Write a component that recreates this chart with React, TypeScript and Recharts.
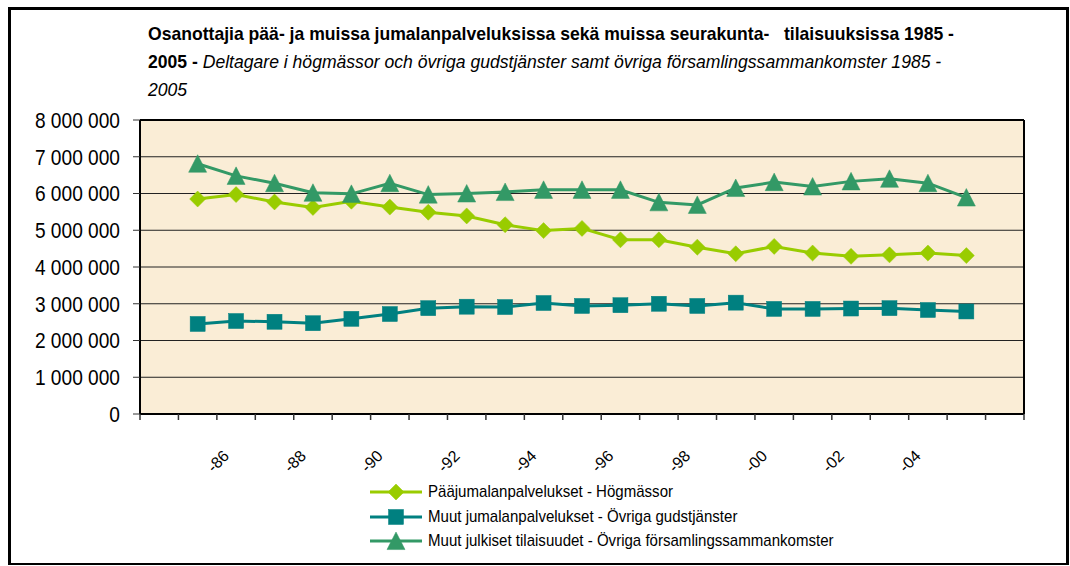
import React from 'react';
import { LineChart, Line, XAxis, YAxis, CartesianGrid, Legend } from 'recharts';

// Category labels (first and last category are empty, as in the original chart)
const categories = ["", "-85", "-86", "-87", "-88", "-89", "-90", "-91", "-92", "-93", "-94", "-95", "-96", "-97", "-98", "-99", "-00", "-01", "-02", "-03", "-04", "-05", ""];
const firstDataIndex = 1;

// 1985 - 2005
const hogmassor = [5850000, 5970000, 5770000, 5620000, 5790000, 5630000, 5490000, 5390000, 5150000, 4990000, 5050000, 4740000, 4740000, 4540000, 4360000, 4560000, 4380000, 4290000, 4330000, 4380000, 4310000];
const ovrigaGudstjanster = [2450000, 2530000, 2510000, 2470000, 2590000, 2720000, 2880000, 2920000, 2910000, 3020000, 2940000, 2960000, 3000000, 2940000, 3030000, 2860000, 2860000, 2870000, 2880000, 2830000, 2790000];
const ovrigaSammankomster = [6810000, 6480000, 6280000, 6020000, 5990000, 6280000, 5970000, 6000000, 6040000, 6100000, 6100000, 6100000, 5760000, 5690000, 6150000, 6310000, 6190000, 6330000, 6400000, 6280000, 5890000];

const yMax = 8000000;
const yTicks = [0, 1000000, 2000000, 3000000, 4000000, 5000000, 6000000, 7000000, 8000000];

const seriesOrder = ['a', 'b', 'c'];
const seriesNames = {
  a: "Pääjumalanpalvelukset - Högmässor",
  b: "Muut jumalanpalvelukset - Övriga gudstjänster",
  c: "Muut julkiset tilaisuudet - Övriga församlingssammankomster",
};
const titleLine1 = "Osanottajia pää- ja muissa jumalanpalveluksissa sekä muissa seurakunta-   tilaisuuksissa 1985 -";
const titleLine2Bold = "2005 - ";
const titleLine2Italic = "Deltagare i högmässor och övriga gudstjänster samt övriga församlingssammankomster 1985 -";
const titleLine3Italic = "2005";

const colA = "#99CC00";
const colB = "#008080";
const colC = "#339966";

const valueAt = (arr: number[], i: number) => {
  const k = i - firstDataIndex;
  return k >= 0 && k < arr.length ? arr[k] : null;
};

const data = categories.map((cat, i) => ({
  cat,
  a: valueAt(hogmassor, i),
  b: valueAt(ovrigaGudstjanster, i),
  c: valueAt(ovrigaSammankomster, i),
}));

// layout
const CHART_W = 1055;
const CHART_H = 553;
const Y_AXIS_W = 129;
const MARGIN = { top: 110, right: 42, bottom: 148, left: 0 };
const PLOT_W = CHART_W - Y_AXIS_W - MARGIN.right;
const HALF_BAND = PLOT_W / categories.length / 2;

const FONT = '"Liberation Sans", Arial, sans-serif';

const fmt = (v: number) => String(v).replace(/\B(?=(\d{3})+(?!\d))/g, ' ');

const Diamond = ({ cx, cy, color, r = 8 }: any) => (
  <path d={`M${cx},${cy - r}L${cx + r},${cy}L${cx},${cy + r}L${cx - r},${cy}Z`} fill={color} stroke={color} strokeWidth={0.5} />
);
const Square = ({ cx, cy, color, r = 7.5 }: any) => (
  <rect x={cx - r} y={cy - r} width={2 * r} height={2 * r} fill={color} stroke={color} strokeWidth={0.5} />
);
const Triangle = ({ cx, cy, color, r = 9 }: any) => (
  <path d={`M${cx},${cy - r}L${cx + r},${cy + r * 0.95}L${cx - r},${cy + r * 0.95}Z`} fill={color} stroke={color} strokeWidth={0.5} />
);

const markerFor = (key: string, cx: number, cy: number, color: string) => {
  if (key === 'a') return <Diamond cx={cx} cy={cy} color={color} />;
  if (key === 'b') return <Square cx={cx} cy={cy} color={color} />;
  return <Triangle cx={cx} cy={cy} color={color} />;
};

const makeDot = (key: string, color: string) => (props: any) => {
  const { cx, cy, index } = props;
  if (cx == null || cy == null || props.value == null) return <g key={`${key}-${index}`} />;
  return <g key={`${key}-${index}`}>{markerFor(key, cx, cy, color)}</g>;
};

// Category tick: boundary tick marks (between categories) + rotated label on every second category
const XTick = (props: any) => {
  const { x, y, payload, index } = props;
  const isLast = index === categories.length - 1;
  const showLabel = index % 2 === 0 && payload && payload.value;
  return (
    <g>
      <line x1={x - HALF_BAND} x2={x - HALF_BAND} y1={y} y2={y + 6} stroke="#333" strokeWidth={1.5} />
      {isLast && <line x1={x + HALF_BAND} x2={x + HALF_BAND} y1={y} y2={y + 6} stroke="#333" strokeWidth={1.5} />}
      {showLabel && (
        <g transform={`translate(${x - 6},${y + 43}) rotate(-45)`}>
          <text x={0} y={0} textAnchor="end" fontFamily={FONT} fontSize={16} fill="#000">{payload.value}</text>
        </g>
      )}
    </g>
  );
};

const YTick = (props: any) => {
  const { x, y, payload } = props;
  return (
    <text x={0} y={0} dy="0.355em" transform={`translate(${x},${y}) scale(0.87,1)`} textAnchor="end" fontFamily={FONT} fontSize={22} fill="#000">
      {fmt(payload.value)}
    </text>
  );
};

const LegendContent = (props: any) => {
  const { payload } = props;
  const items = [...(payload || [])].sort((p: any, q: any) => seriesOrder.indexOf(p.dataKey) - seriesOrder.indexOf(q.dataKey));
  return (
    <div style={{ fontFamily: FONT, fontSize: 17, color: '#000' }}>
      {items.map((entry: any) => (
        <div key={entry.dataKey} style={{ display: 'flex', alignItems: 'center', height: 24.5, whiteSpace: 'nowrap' }}>
          <svg width={52} height={20} style={{ display: 'block' }}>
            <line x1={0} y1={10} x2={52} y2={10} stroke={entry.color} strokeWidth={3} />
            {markerFor(entry.dataKey, 26, 10, entry.color)}
          </svg>
          <span style={{ marginLeft: 6, display: 'inline-block', transform: 'scaleX(0.885)', transformOrigin: 'left center' }}>{entry.value}</span>
        </div>
      ))}
    </div>
  );
};

const topEdge = ({ offset }: any) => [offset.top];
const rightEdge = ({ offset }: any) => [offset.left + offset.width];

export default function App() {
  return (
    <div style={{ position: 'absolute', left: 8, top: 7, width: 1061, height: 558, border: '3px solid #000', borderBottomWidth: 2, boxSizing: 'border-box', background: '#fff' }}>
      <div style={{ position: 'absolute', left: 137, top: 10, fontFamily: FONT, fontSize: 19, lineHeight: '28px', color: '#000', whiteSpace: 'pre', transform: 'scaleX(0.925)', transformOrigin: 'left top' }}>
        <div style={{ fontWeight: 'bold' }}>{titleLine1}</div>
        <div><span style={{ fontWeight: 'bold' }}>{titleLine2Bold}</span><span style={{ fontStyle: 'italic' }}>{titleLine2Italic}</span></div>
        <div style={{ fontStyle: 'italic' }}>{titleLine3Italic}</div>
      </div>
      <LineChart width={CHART_W} height={CHART_H} data={data} margin={MARGIN}>
        <CartesianGrid horizontal vertical={false} stroke="#222" strokeWidth={1} fill="#FAEDD6" fillOpacity={1} />
        <CartesianGrid horizontalCoordinatesGenerator={topEdge} verticalCoordinatesGenerator={rightEdge} stroke="#000" strokeWidth={2} fill="none" />
        <XAxis dataKey="cat" padding={{ left: HALF_BAND, right: HALF_BAND }} interval={0} tickLine={false} tickSize={0} tickMargin={0}
          axisLine={{ stroke: '#000', strokeWidth: 2 }} height={1} tick={<XTick />} />
        <YAxis domain={[0, yMax]} ticks={yTicks} interval={0} width={Y_AXIS_W} tickSize={7} tickMargin={13}
          tick={<YTick />} tickLine={{ stroke: '#333' }} axisLine={{ stroke: '#000', strokeWidth: 2 }} />
        <Legend layout="vertical" verticalAlign="middle" align="center" wrapperStyle={{ left: 359, top: 470, width: 'auto' }} content={<LegendContent />} />
        <Line dataKey="a" name={seriesNames.a} stroke={colA} strokeWidth={3} dot={makeDot('a', colA)} activeDot={false} isAnimationActive={false} />
        <Line dataKey="b" name={seriesNames.b} stroke={colB} strokeWidth={3} dot={makeDot('b', colB)} activeDot={false} isAnimationActive={false} />
        <Line dataKey="c" name={seriesNames.c} stroke={colC} strokeWidth={3} dot={makeDot('c', colC)} activeDot={false} isAnimationActive={false} />
      </LineChart>
    </div>
  );
}
